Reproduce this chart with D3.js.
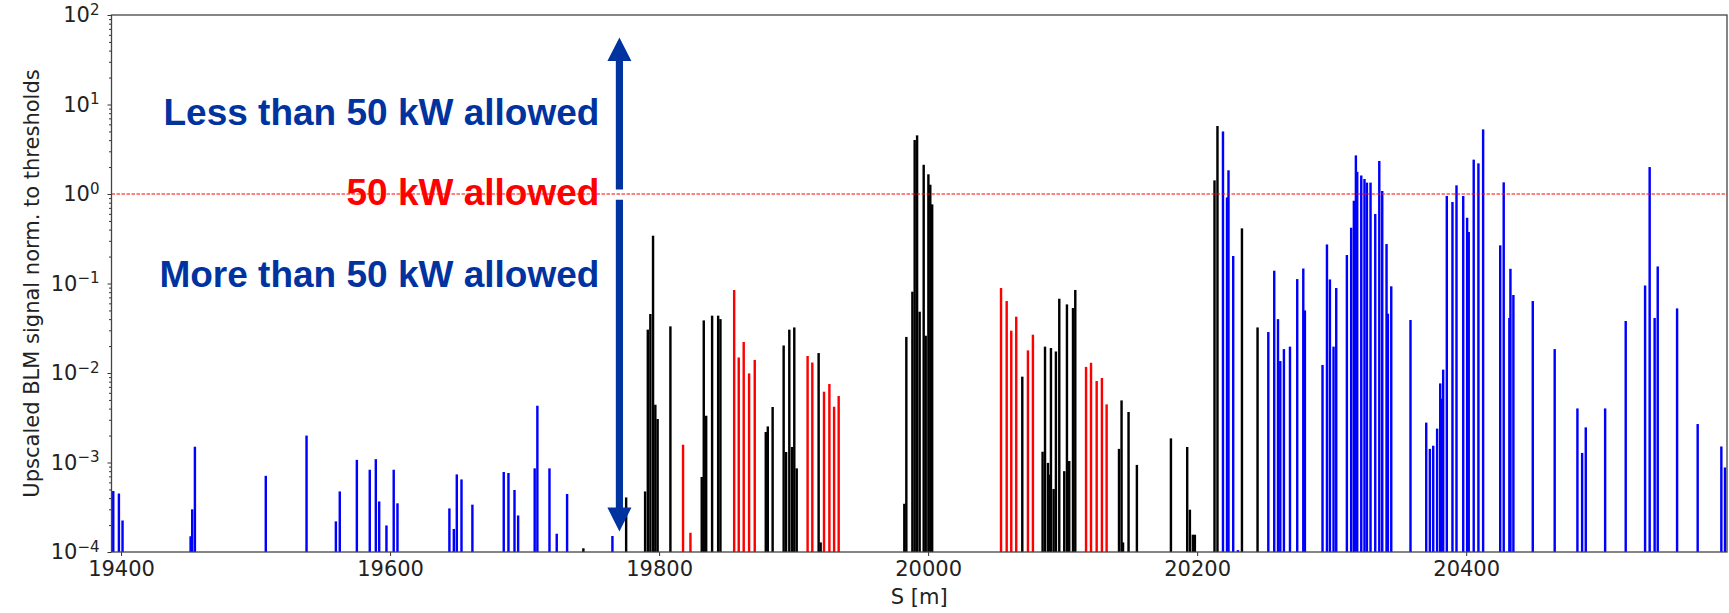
<!DOCTYPE html>
<html>
<head>
<meta charset="utf-8">
<script src="https://cdn.jsdelivr.net/npm/d3@7"></script>
<style>
  body { margin: 0; background: #fff; }
  .tick text { font-family: "DejaVu Sans", sans-serif; fill: #222; }
</style>
</head>
<body>
<div id="chart"></div>
<script>
const FRAME_WIDTH = 1729;
const FRAME_HEIGHT = 613;
const MARGINS = {left: 111.5, right: 2, top: 15, bottom: 61};

// blue: less than 50 kW allowed
const BLUE_S = [19394.2, 19398.4, 19401.1, 19451.7, 19452.9, 19454.9, 19507.6, 19537.9, 19559.7, 19562.6,
  19575.3, 19584.9, 19589.4, 19591.9, 19597.3, 19602.7, 19605.5, 19644.1, 19647.4, 19649.6,
  19653.1, 19661.2, 19684.5, 19688.0, 19692.5, 19695.2, 19707.5, 19709.5, 19718.5, 19723.9,
  19731.6, 19765.3,
  20219.2, 20222.2, 20223.3, 20226.8, 20230.3, 20252.9, 20257.3, 20260.1, 20261.8, 20264.5,
  20269.0, 20274.4, 20278.9, 20280.1, 20293.2, 20296.5, 20298.7, 20301.4, 20303.4, 20311.3,
  20314.5, 20316.5, 20318.0, 20319.0, 20322.0, 20324.4, 20326.2, 20328.9, 20332.4, 20335.4,
  20337.6, 20340.8, 20341.8, 20344.3, 20358.6, 20370.3, 20373.0, 20375.5, 20378.4, 20380.7,
  20381.4, 20382.9, 20385.6, 20389.8, 20392.8, 20397.8, 20400.7, 20401.9, 20405.6, 20409.1,
  20412.6, 20425.3, 20427.9, 20432.1, 20432.9, 20435.1, 20449.5, 20465.8, 20482.7, 20486.2,
  20488.9, 20503.3, 20518.6, 20533.0, 20536.4, 20540.1, 20542.4, 20556.8, 20572.1, 20589.7,
  20592.4];
const BLUE_V = [4.8e-4, 4.5e-4, 2.25e-4, 1.5e-4, 3.0e-4, 1.5e-3, 7.1e-4, 2.0e-3, 2.2e-4, 4.75e-4,
  1.07e-3, 8.3e-4, 1.09e-3, 3.67e-4, 1.98e-4, 8.3e-4, 3.5e-4, 3.07e-4, 1.81e-4, 7.36e-4,
  6.47e-4, 3.38e-4, 7.83e-4, 7.63e-4, 4.93e-4, 2.56e-4, 8.6e-4, 4.31e-3, 8.6e-4, 1.6e-4,
  4.45e-4, 1.51e-4,
  5.0, 0.916, 1.84, 0.203, 1.05e-4, 0.0287, 0.139, 0.040, 0.0136, 0.0185,
  0.0197, 0.112, 0.147, 0.050, 0.0123, 0.273, 0.111, 0.0197, 0.089, 0.208,
  0.42, 0.841, 2.7, 1.77, 1.61, 1.47, 1.34, 1.34, 0.598, 2.34,
  1.08, 0.276, 0.046, 0.093, 0.0391, 2.79e-3, 1.42e-3, 1.54e-3, 2.39e-3, 7.65e-3,
  5.16e-3, 1.09e-2, 0.95, 0.814, 1.25, 0.95, 0.543, 0.376, 2.42, 2.2,
  5.27, 0.267, 1.35, 0.0412, 0.146, 0.0744, 0.0637, 0.0185, 4.02e-3, 1.28e-3,
  2.47e-3, 4.02e-3, 0.0381, 0.095, 2.0, 0.0412, 0.155, 0.0527, 2.69e-3, 1.51e-3,
  8.8e-4];

// black: more than 50 kW allowed
const BLACK_S = [19743.7, 19775.5, 19789.6, 19791.6, 19793.5, 19795.5, 19797.2, 19798.9, 19808.4, 19831.7,
  19833.2, 19835.0, 19839.4, 19843.9, 19845.6, 19879.3, 19880.8, 19884.4, 19892.6, 19894.4,
  19896.8, 19898.8, 19900.5, 19902.3, 19918.6, 19920.1, 19982.3, 19983.8, 19988.3, 19990.0,
  19991.8, 19993.7, 19996.7, 19998.2, 20000.2, 20001.6, 20003.0, 20070.0, 20085.1, 20086.9,
  20089.1, 20090.1, 20091.3, 20093.3, 20095.0, 20097.5, 20101.2, 20103.2, 20104.9, 20107.7,
  20109.4, 20141.9, 20143.8, 20144.9, 20149.0, 20155.2, 20180.5, 20192.6, 20194.6, 20196.8,
  20198.3, 20212.9, 20215.1, 20233.3, 20244.9];
const BLACK_V = [1.1e-4, 4.07e-4, 4.75e-4, 3.05e-2, 4.56e-2, 0.342, 4.42e-3, 3.06e-3, 3.32e-2, 6.89e-4,
  3.87e-2, 3.33e-3, 4.37e-2, 4.37e-2, 4.0e-2, 2.19e-3, 2.53e-3, 4.17e-3, 2.03e-2, 1.31e-3,
  3.05e-2, 1.49e-3, 3.23e-2, 8.6e-4, 1.67e-2, 1.28e-4, 3.46e-4, 2.53e-2, 8.1e-2, 4.01,
  4.52, 4.84e-2, 2.12, 2.61e-2, 1.66, 1.27, 0.766, 9.1e-3, 1.32e-3, 1.97e-2,
  9.9e-4, 7.3e-4, 1.9e-2, 5.06e-4, 1.74e-2, 6.76e-2, 8.0e-4, 5.84e-2, 1.04e-3, 5.32e-2,
  8.46e-2, 1.42e-3, 4.94e-3, 1.28e-4, 3.67e-3, 9.4e-4, 1.86e-3, 1.49e-3, 2.97e-4, 1.56e-4,
  1.56e-4, 1.42, 5.75, 0.413, 3.23e-2];

// red: 50 kW allowed
const RED_S = [19817.8, 19823.3, 19855.8, 19859.2, 19862.9, 19866.9, 19871.1, 19910.4, 19913.9, 19922.6,
  19926.6, 19930.1, 19933.5, 20054.2, 20058.4, 20061.8, 20065.5, 20074.2, 20077.9, 20117.4,
  20121.1, 20125.3, 20129.2, 20132.7];
const RED_V = [1.58e-3, 1.64e-4, 8.46e-2, 1.49e-2, 2.22e-2, 9.9e-3, 1.40e-2, 1.55e-2, 1.31e-2, 6.18e-3,
  7.54e-3, 4.2e-3, 5.53e-3, 8.9e-2, 6.37e-2, 2.97e-2, 4.26e-2, 1.79e-2, 2.68e-2, 1.17e-2,
  1.30e-2, 8.14e-3, 8.8e-3, 4.46e-3];

const X_TICKS = [19400, 19600, 19800, 20000, 20200, 20400];
const Y_EXPONENTS = [-4, -3, -2, -1, 0, 1, 2];

const BAR_WIDTH = 1.8;   // metres
const Y_FLOOR = 1e-4;

const VIS_WIDTH = FRAME_WIDTH - MARGINS.left - MARGINS.right;
const VIS_HEIGHT = FRAME_HEIGHT - MARGINS.top - MARGINS.bottom;

const FRAME = d3.select("#chart")
                .append("svg")
                  .attr("width", FRAME_WIDTH)
                  .attr("height", FRAME_HEIGHT);

const X_SCALE = d3.scaleLinear()
                  .domain([19392.9, 20593.9])
                  .range([MARGINS.left, MARGINS.left + VIS_WIDTH]);

const Y_SCALE = d3.scaleLog()
                  .domain([1e-4, 1e2])
                  .range([MARGINS.top + VIS_HEIGHT, MARGINS.top]);

function build_series(s, v, color) {
  const rows = s.map((d, i) => ({s: d, v: v[i]}));
  FRAME.append("g")
      .selectAll("rect")
      .data(rows)
      .enter()
      .append("rect")
        .attr("x", (d) => X_SCALE(d.s - BAR_WIDTH / 2))
        .attr("width", (d) => X_SCALE(d.s + BAR_WIDTH / 2) - X_SCALE(d.s - BAR_WIDTH / 2))
        .attr("y", (d) => Y_SCALE(d.v))
        .attr("height", (d) => Y_SCALE(Y_FLOOR) - Y_SCALE(d.v))
        .attr("fill", color);
}

build_series(BLUE_S, BLUE_V, "#0000ff");
build_series(BLACK_S, BLACK_V, "#000000");
build_series(RED_S, RED_V, "#ff0000");

// threshold line at 1
FRAME.append("line")
    .attr("x1", MARGINS.left)
    .attr("x2", MARGINS.left + VIS_WIDTH)
    .attr("y1", Y_SCALE(1))
    .attr("y2", Y_SCALE(1))
    .attr("stroke", "#ff0000")
    .attr("stroke-width", 1)
    .attr("stroke-dasharray", "3.5,1.5");

// annotation arrow
const ARROW_X = X_SCALE(19770.5);
const ARROW_COLOR = "#0033a0";
const SHAFT = 3.6, HEAD = 12;
const upTip = Y_SCALE(56), upBase = upTip + 23.5, upEnd = Y_SCALE(1.12);
const dnTip = Y_SCALE(1.69e-4), dnBase = dnTip - 24, dnStart = Y_SCALE(0.865);

FRAME.append("path")
    .attr("fill", ARROW_COLOR)
    .attr("d", "M" + ARROW_X + "," + upTip +
               "L" + (ARROW_X + HEAD) + "," + upBase +
               "L" + (ARROW_X + SHAFT) + "," + upBase +
               "L" + (ARROW_X + SHAFT) + "," + upEnd +
               "L" + (ARROW_X - SHAFT) + "," + upEnd +
               "L" + (ARROW_X - SHAFT) + "," + upBase +
               "L" + (ARROW_X - HEAD) + "," + upBase + "Z");

FRAME.append("path")
    .attr("fill", ARROW_COLOR)
    .attr("d", "M" + ARROW_X + "," + dnTip +
               "L" + (ARROW_X + HEAD) + "," + dnBase +
               "L" + (ARROW_X + SHAFT) + "," + dnBase +
               "L" + (ARROW_X + SHAFT) + "," + dnStart +
               "L" + (ARROW_X - SHAFT) + "," + dnStart +
               "L" + (ARROW_X - SHAFT) + "," + dnBase +
               "L" + (ARROW_X - HEAD) + "," + dnBase + "Z");

const NOTES = [
  {text: "Less than 50 kW allowed", v: 5.9, color: ARROW_COLOR},
  {text: "50 kW allowed", v: 0.75, color: "#ff0000"},
  {text: "More than 50 kW allowed", v: 0.0914, color: ARROW_COLOR}
];

FRAME.selectAll(".note")
    .data(NOTES)
    .enter()
    .append("text")
      .attr("x", X_SCALE(19755.6))
      .attr("y", (d) => Y_SCALE(d.v))
      .attr("text-anchor", "end")
      .attr("font-family", "'Liberation Sans', Arial, sans-serif")
      .attr("font-weight", "bold")
      .attr("font-size", "37px")
      .attr("fill", (d) => d.color)
      .text((d) => d.text);

// axes
const xAxis = FRAME.append("g")
      .attr("transform", "translate(0," + (MARGINS.top + VIS_HEIGHT) + ")")
      .call(d3.axisBottom(X_SCALE).tickValues(X_TICKS).tickSize(4).tickPadding(5)
              .tickFormat(d3.format("d")))
        .attr("font-size", "21px");

const yAxis = FRAME.append("g")
      .attr("transform", "translate(" + MARGINS.left + ",0)")
      .call(d3.axisLeft(Y_SCALE).tickValues(Y_EXPONENTS.map((e) => Math.pow(10, e)))
              .tickSize(4).tickPadding(8).tickFormat(() => ""))
        .attr("font-size", "21px");

yAxis.selectAll(".tick text")
    .each(function(d) {
      const t = d3.select(this);
      const e = Math.round(Math.log10(d));
      t.append("tspan").text("10");
      t.append("tspan")
          .attr("dy", "-0.5em")
          .attr("font-size", "15px")
          .text(e < 0 ? "\u2212" + (-e) : String(e));
    });

const MINOR = [];
Y_EXPONENTS.slice(0, -1).forEach((e) => {
  for (let k = 2; k <= 9; k++) MINOR.push(k * Math.pow(10, e));
});

FRAME.append("g")
      .attr("transform", "translate(" + MARGINS.left + ",0)")
      .call(d3.axisLeft(Y_SCALE).tickValues(MINOR).tickSize(2.5).tickFormat(() => ""))
      .call((g) => g.select(".domain").remove());

FRAME.selectAll(".tick line").attr("stroke", "#333");
FRAME.selectAll(".domain").attr("stroke", "none");

// frame box
FRAME.append("rect")
    .attr("x", MARGINS.left)
    .attr("y", MARGINS.top)
    .attr("width", VIS_WIDTH)
    .attr("height", VIS_HEIGHT)
    .attr("fill", "none")
    .attr("stroke", "#444")
    .attr("stroke-width", 1.3);

// axis titles
FRAME.append("text")
    .attr("x", MARGINS.left + VIS_WIDTH / 2)
    .attr("y", 604)
    .attr("text-anchor", "middle")
    .attr("font-family", "'DejaVu Sans', sans-serif")
    .attr("font-size", "21px")
    .attr("fill", "#222")
    .text("S [m]");

FRAME.append("text")
    .attr("transform", "translate(39," + (MARGINS.top + VIS_HEIGHT / 2) + ") rotate(-90)")
    .attr("text-anchor", "middle")
    .attr("font-family", "'DejaVu Sans', sans-serif")
    .attr("font-size", "21px")
    .attr("fill", "#222")
    .text("Upscaled BLM signal norm. to thresholds");
</script>
</body>
</html>
